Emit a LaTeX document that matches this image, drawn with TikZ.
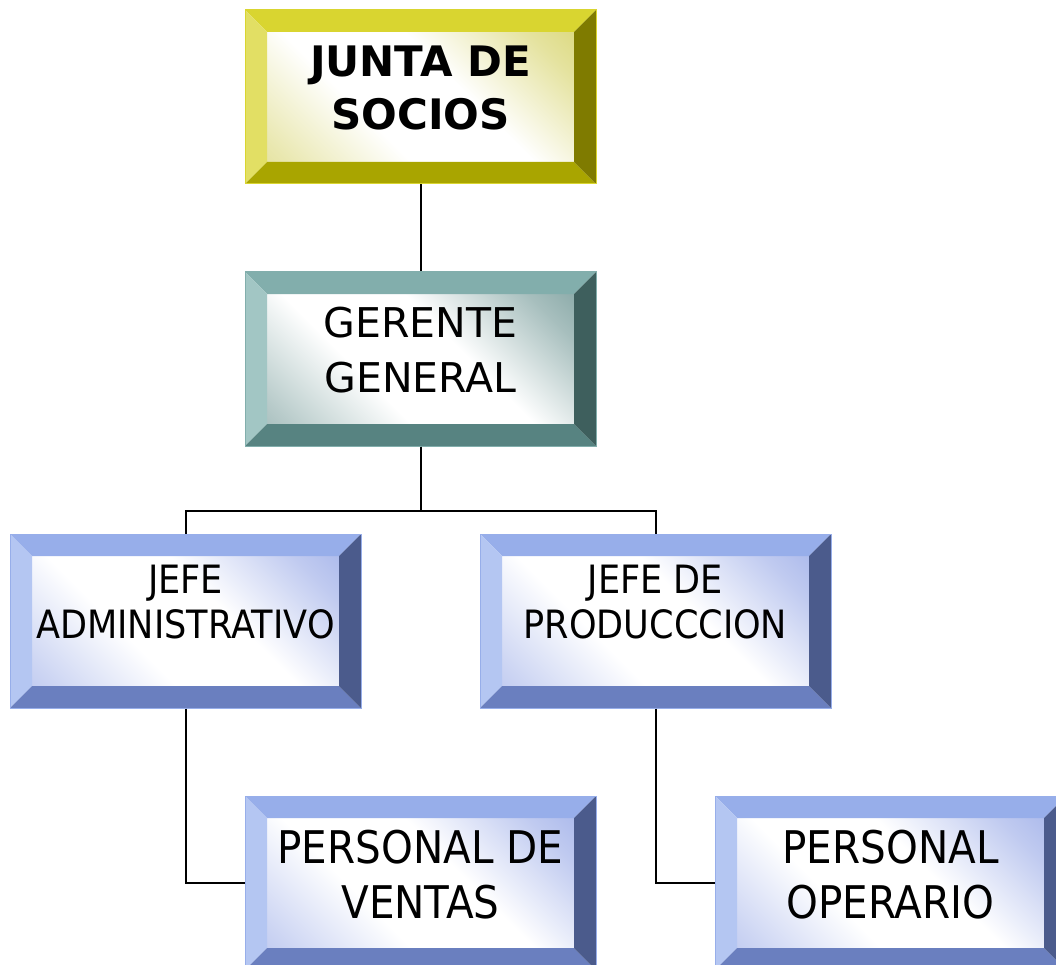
\documentclass[tikz,border=0pt]{standalone}
\usepackage{fontspec}
\setmainfont{DejaVu Sans Condensed}
\newfontfamily\widefont{DejaVu Sans}
\usetikzlibrary{positioning}

\definecolor{yelTop}{HTML}{D9D530}
\definecolor{yelLeft}{HTML}{E2DF64}
\definecolor{yelBot}{HTML}{A9A500}
\definecolor{yelRight}{HTML}{7F7B00}
\definecolor{yelIn}{HTML}{CFCB50}
\definecolor{tealTop}{HTML}{82AEAC}
\definecolor{tealLeft}{HTML}{A2C6C4}
\definecolor{tealBot}{HTML}{578381}
\definecolor{tealRight}{HTML}{3E5F5D}
\definecolor{tealIn}{HTML}{5F8A88}
\definecolor{bluTop}{HTML}{97AEEA}
\definecolor{bluLeft}{HTML}{B4C6F2}
\definecolor{bluBot}{HTML}{6A7FBF}
\definecolor{bluRight}{HTML}{4B5B8C}
\definecolor{bluIn}{HTML}{8DA0E4}

% soft diagonal glow for the face of a box
\newcommand\declglow[1]{%
  \pgfdeclareverticalshading{#1Glow}{100bp}{%
    color(0bp)=(#1In!80!white); color(18bp)=(#1In!45!white);
    color(38bp)=(white); color(58bp)=(white);
    color(78bp)=(#1In!55!white); color(100bp)=(#1In)}}
\declglow{yel}
\declglow{teal}
\declglow{blu}

% bevelled frame, #1 = colour set
\newcommand\bevelfill[1]{%
  \coordinate (pnw) at (path picture bounding box.north west);
  \coordinate (pne) at (path picture bounding box.north east);
  \coordinate (psw) at (path picture bounding box.south west);
  \coordinate (pse) at (path picture bounding box.south east);
  \coordinate (inw) at ([shift={(22pt,-22pt)}]pnw);
  \coordinate (ine) at ([shift={(-22pt,-22pt)}]pne);
  \coordinate (isw) at ([shift={(22pt,22pt)}]psw);
  \coordinate (ise) at ([shift={(-22pt,22pt)}]pse);
  \shade[shading=#1Glow, shading angle=-45] (inw) rectangle (ise);
  \fill[#1Top] (pnw) -- (pne) -- (ine) -- (inw) -- cycle;
  \fill[#1Left] (pnw) -- (inw) -- (isw) -- (psw) -- cycle;
  \fill[#1Bot] (psw) -- (isw) -- (ise) -- (pse) -- cycle;
  \fill[#1Right] (pne) -- (pse) -- (ise) -- (ine) -- cycle;
}

\tikzset{
  bevelbox/.style={rectangle, draw=#1Top, line width=1pt,
    minimum width=351pt, minimum height=174pt, inner sep=0pt,
    align=center, text depth=18pt, path picture={\bevelfill{#1}}},
  jefebox/.style={bevelbox=blu, text depth=38pt,
    font=\fontsize{39}{45}\selectfont},
  staffbox/.style={bevelbox=blu, font=\fontsize{45}{55}\selectfont},
  link/.style={line width=2pt}
}

\begin{document}
\begin{tikzpicture}[x=1pt,y=-1pt]
  \clip (0,0) rectangle (1056,965);
  \node[bevelbox=yel, font=\widefont\fontsize{42}{53}\selectfont\bfseries]
    (junta) at (420.5,97) {JUNTA DE\\SOCIOS};
  \node[bevelbox=teal, font=\widefont\fontsize{41}{55}\selectfont]
    (gerente) at (420.5,359) {GERENTE\\GENERAL};
  \node[jefebox] (jadmin) at (185.5,621) {JEFE\\ADMINISTRATIVO};
  \node[jefebox] (jprod) at (655.5,621) {JEFE DE\\PRODUCCCION};
  \node[staffbox] (ventas) at (420.5,883) {PERSONAL DE\\VENTAS};
  \node[staffbox] (operario) at (890.5,883) {PERSONAL\\OPERARIO};

  \draw[link] (junta) -- (gerente);
  \draw[link] (gerente.south) -- ++(0,64) -| (jadmin.north);
  \draw[link] (gerente.south) -- ++(0,64) -| (jprod.north);
  \draw[link] (jadmin.south) |- (ventas.west);
  \draw[link] (jprod.south) |- (operario.west);
\end{tikzpicture}
\end{document}
